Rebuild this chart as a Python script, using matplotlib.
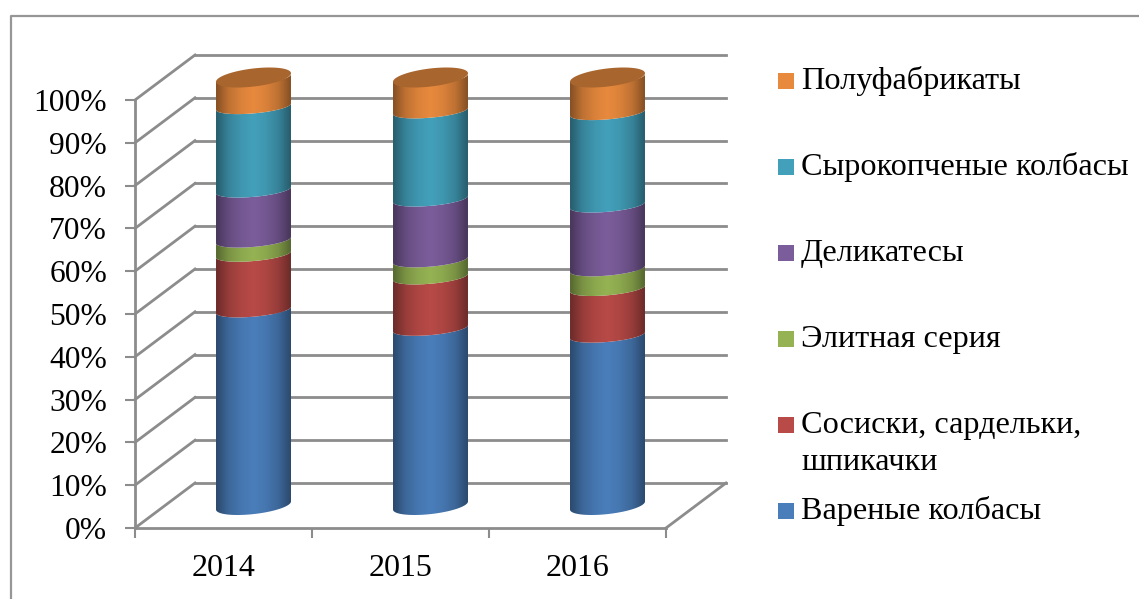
import matplotlib
matplotlib.use("Agg")
import matplotlib.pyplot as plt
import numpy as np
from matplotlib.colors import LinearSegmentedColormap
from matplotlib.patches import Polygon, Rectangle
from matplotlib.lines import Line2D

years = ["2014", "2015", "2016"]
series = ["Вареные колбасы", "Сосиски, сардельки,\nшпикачки", "Элитная серия",
          "Деликатесы", "Сырокопченые колбасы", "Полуфабрикаты"]
boiled = [45.7, 41.4, 39.8]
sausages = [13.0, 12.0, 10.9]
elite = [3.3, 4.0, 4.6]
delicacies = [11.7, 14.2, 14.9]
smoked = [19.5, 20.6, 21.6]
semi = [6.8, 7.8, 8.2]
values = [boiled, sausages, elite, delicacies, smoked, semi]
colors = ["#4a7ebb", "#b84a47", "#95b353", "#7b5d9b", "#43a0bb", "#e88a3e"]
legend_y = [511, 425, 339, 253, 167, 81]

W, H = 1139, 599
GRAY = "#8c8c8c"
# pixel scale of the front plane
cat_px = 177.0
pct_px = 4.28
depth_x = 60 / cat_px
depth_y = 45 / pct_px

plt.rcParams["font.family"] = "Liberation Serif"
fig = plt.figure(figsize=(W / 100, H / 100), dpi=100)
ax = fig.add_axes([135 / W, 1 - 528 / H, 531 / W, 428 / H])
ax.patch.set_alpha(0)

# outer frame of the chart area, only left and top show
fig.add_artist(Line2D([10.5 / W, 10.5 / W, 1], [0, 1 - 15.5 / H, 1 - 15.5 / H], color="#969696",
                      linewidth=1.6, transform=fig.transFigure))

# walls and floor
for v in range(0, 101, 10):
    ax.plot([-0.5, -0.5 + depth_x], [v, v + depth_y], color=GRAY, lw=2, clip_on=False, zorder=1)
    ax.plot([-0.5 + depth_x, 2.5 + depth_x], [v + depth_y, v + depth_y], color=GRAY, lw=2,
            clip_on=False, zorder=1)
ax.plot([2.5, 2.5 + depth_x], [0, depth_y], color=GRAY, lw=2, clip_on=False, zorder=1)


def ring(x, v, t, c=7.5):
    # point on the tilted circle of a cylinder, in data units
    a, b = 33.9, 16.0
    px = a * np.cos(t) + b * np.sin(t)
    py = c * np.sin(t)
    return x + depth_x / 2 + px / cat_px, v + depth_y / 2 + py / pct_px


t0 = np.arctan2(16.0, 33.9)
front = np.linspace(t0 + np.pi, t0 + 2 * np.pi, 60)
half_w = 37.5 / cat_px

for i in range(len(years)):
    bottom = 0
    for vals, col in zip(values, colors):
        top = bottom + vals[i]
        # the foot of the cylinder looks a bit rounder than the joints
        x1, y1 = ring(i, bottom, front, c=9.5 if bottom == 0 else 7.5)
        x2, y2 = ring(i, top, front[::-1])
        poly = Polygon(np.column_stack([np.r_[x1, x2], np.r_[y1, y2]]), closed=True,
                       facecolor="none", edgecolor="none", clip_on=False)
        ax.add_patch(poly)
        rgb = np.array(matplotlib.colors.to_rgb(col))
        cmap = LinearSegmentedColormap.from_list(
            "cyl", [rgb * 0.58, rgb * 0.82, rgb * 0.94, rgb, rgb * 0.94, rgb * 0.82, rgb * 0.58])
        cx = i + depth_x / 2
        im = ax.imshow(np.linspace(0, 1, 128)[None, :], cmap=cmap, aspect="auto", zorder=3,
                       extent=[cx - half_w, cx + half_w, bottom - 5, top + depth_y + 5])
        im.set_clip_box(fig.bbox)
        im.set_clip_path(poly)
        bottom = top
    # top cap
    tt = np.linspace(0, 2 * np.pi, 120)
    xc, yc = ring(i, bottom, tt, c=10.0)
    ax.add_patch(Polygon(np.column_stack([xc, yc]), closed=True, facecolor="#a8652e",
                         edgecolor="none", clip_on=False, zorder=4))

ax.set_xlim(-0.5, 2.5)
ax.set_ylim(0, 100)
ax.set_yticks(range(0, 101, 10))
ax.set_yticklabels([f"{v}%" for v in range(0, 101, 10)], fontsize=22.7)
ax.set_xticks([-0.5, 0.5, 1.5, 2.5])
ax.set_xticklabels([])
ax.set_xticks(range(3), minor=True)
ax.set_xticklabels(years, minor=True, fontsize=23)
ax.tick_params(axis="y", length=7, width=1.5, color=GRAY, pad=13)
ax.tick_params(axis="x", which="major", length=7, width=1.5, color=GRAY)
ax.tick_params(axis="x", which="minor", length=0, pad=19)
for side in ["top", "right"]:
    ax.spines[side].set_visible(False)
for side in ["left", "bottom"]:
    ax.spines[side].set_color(GRAY)
    ax.spines[side].set_linewidth(2)
    ax.spines[side].set_zorder(2)

# legend
for name, col, y in zip(series, colors, legend_y):
    fig.add_artist(Rectangle((778 / W, 1 - (y + 8) / H), 16 / W, 16 / H, facecolor=col,
                             edgecolor="none", transform=fig.transFigure))
    lines = name.split("\n")
    for k, line in enumerate(lines):
        fig.text(801 / W, 1 - (y + k * 38) / H, line, fontsize=23.2, va="center", ha="left")

fig.savefig("out.png", dpi=100)
